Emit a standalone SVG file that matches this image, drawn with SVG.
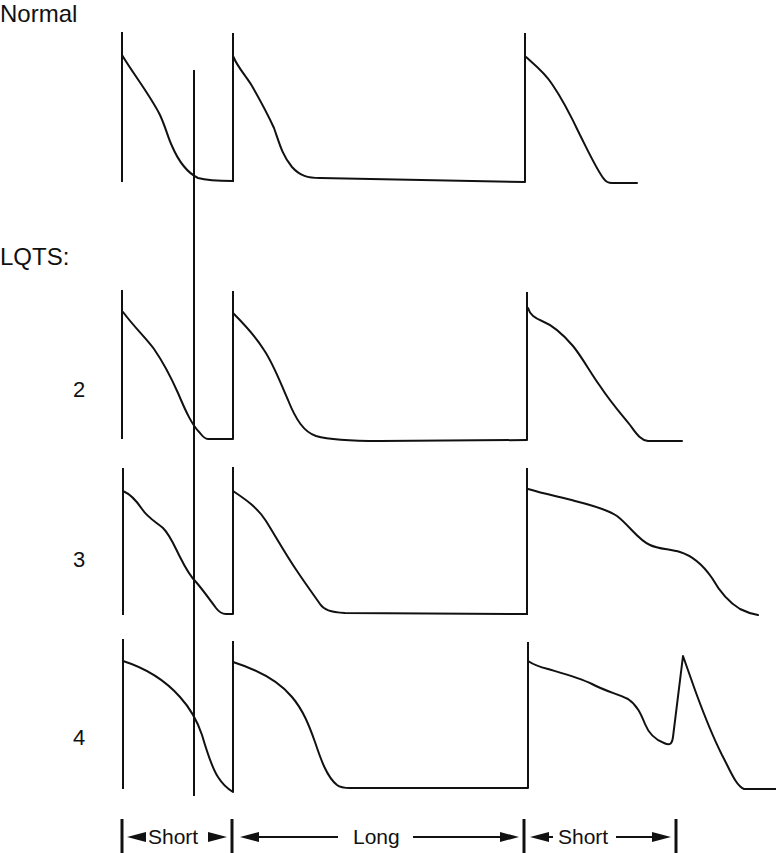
<svg xmlns="http://www.w3.org/2000/svg" width="776" height="853" viewBox="0 0 776 853">
<style>
.tr{fill:none;stroke:#111;stroke-width:2;stroke-linejoin:round;stroke-linecap:round}
.st{stroke:#111;stroke-width:2}
.tk{stroke:#111;stroke-width:3}
.ah{fill:#111}
.lb{font-family:"Liberation Sans",Arial,sans-serif;fill:#111}
</style>
<rect width="776" height="853" fill="#fff"/>
<g id="labels" class="lb">
<text x="0" y="22" font-size="24">Normal</text>
<text x="0" y="265" font-size="24">LQTS:</text>
<text x="73" y="397" font-size="22">2</text>
<text x="73" y="567" font-size="22">3</text>
<text x="73" y="745" font-size="22">4</text>
</g>
<g id="normal">
<line class="st" x1="122" y1="32" x2="122" y2="182"/>
<line class="st" x1="233" y1="33" x2="233" y2="182"/>
<line class="st" x1="525" y1="33" x2="525" y2="182"/>
<path class="tr" d="M122,55 C132,72 150,95 160,115 C166,128 168,138 172,146 C178,160 186,172 198,178 C205,180 215,181 233,181"/>
<path class="tr" d="M233,56 C238,68 246,76 252,86 C260,100 268,115 274,128 C279,142 282,155 292,167 C300,176 308,178 320,178 L525,182"/>
<path class="tr" d="M526,57 C535,65 545,73 552,84 C563,100 572,118 580,135 C590,155 598,172 604,179 C606,182 608,183 612,183 L637,183"/>
</g>
<g id="lqts2">
<line class="st" x1="122" y1="290" x2="122" y2="439"/>
<line class="st" x1="233" y1="291" x2="233" y2="439"/>
<line class="st" x1="527" y1="292" x2="527" y2="440"/>
<path class="tr" d="M123,312 C135,328 146,338 154,349 C163,362 170,375 178,393 C186,412 192,425 200,433 C203,437 205,439 208,439 L233,439"/>
<path class="tr" d="M233,313 C245,325 256,337 264,350 C274,365 280,382 288,400 C296,420 304,432 316,436 C330,440 350,441 380,441 L527,440"/>
<path class="tr" d="M528,308 C530,315 535,318 542,321 C552,325 562,333 573,346 C582,357 590,372 600,386 C612,404 622,415 630,425 C636,433 640,440 648,441 L682,441"/>
</g>
<g id="lqts3">
<line class="st" x1="123" y1="468" x2="123" y2="615"/>
<line class="st" x1="233" y1="467" x2="233" y2="614"/>
<line class="st" x1="527" y1="468" x2="527" y2="615"/>
<path class="tr" d="M123,491 C130,494 136,500 142,509 C148,518 156,522 163,528 C170,535 174,545 180,557 C186,569 190,576 196,582 C203,590 210,600 216,608 C219,612 222,614 226,614 L233,614"/>
<path class="tr" d="M233,491 C245,499 257,507 266,521 C276,537 286,555 297,571 C305,583 313,594 320,604 C324,610 330,612 345,613 L527,614"/>
<path class="tr" d="M528,489 C545,494 560,497 575,501 C595,506 608,510 617,516 C630,526 638,540 650,545 C658,549 670,549 680,552 C693,556 703,565 712,578 C720,592 728,602 740,609 C746,612 752,614 758,615"/>
</g>
<g id="lqts4">
<line class="st" x1="123" y1="639" x2="123" y2="789"/>
<line class="st" x1="233" y1="641" x2="233" y2="792"/>
<line class="st" x1="528" y1="642" x2="528" y2="788"/>
<path class="tr" d="M123,661 C145,668 165,680 180,697 C190,708 197,720 202,735 C207,752 212,768 218,777 C223,785 228,789 233,792"/>
<path class="tr" d="M233,662 C255,669 278,680 292,697 C303,710 309,725 315,742 C321,760 327,777 337,785 C341,788 345,788 350,788 L528,788"/>
<path class="tr" d="M528,661 C534,665 540,667 548,669 C565,674 580,678 592,684 C605,691 618,694 628,699 C637,705 641,714 645,724 C649,734 656,740 664,743 C670,746 672,744 673,737 L683,656 L695,690 C703,712 712,735 722,755 C730,770 736,786 744,789 L776,789"/>
</g>
<g id="marker">
<line class="st" x1="194" y1="70" x2="194" y2="796"/>
</g>
<g id="intervals">
<line class="tk" x1="122" y1="819" x2="122" y2="853"/>
<line class="tk" x1="232" y1="819" x2="232" y2="853"/>
<line class="tk" x1="524" y1="819" x2="524" y2="853"/>
<line class="tk" x1="676" y1="819" x2="676" y2="853"/>
<polygon class="ah" points="127,837 146,832 146,842"/>
<polygon class="ah" points="227,837 208,832 208,842"/>
<polygon class="ah" points="240,837 259,832 259,842"/>
<line class="st" x1="258" y1="837" x2="338" y2="837"/>
<line class="st" x1="413" y1="837" x2="501" y2="837"/>
<polygon class="ah" points="519,837 500,832 500,842"/>
<polygon class="ah" points="530,837 549,832 549,842"/>
<line class="st" x1="548" y1="837" x2="553" y2="837"/>
<line class="st" x1="616" y1="837" x2="653" y2="837"/>
<polygon class="ah" points="671,837 652,832 652,842"/>
<g class="lb" font-size="21">
<text x="148" y="844">Short</text>
<text x="353" y="844">Long</text>
<text x="558" y="844">Short</text>
</g>
</g>
</svg>
